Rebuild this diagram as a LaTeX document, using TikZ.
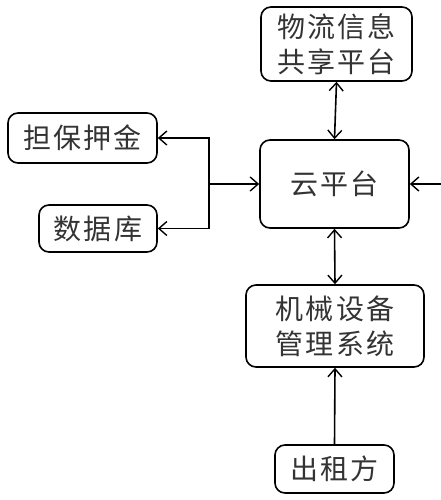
\documentclass[tikz,border=0pt]{standalone}
\usepackage{fontspec}
\setmainfont{Noto Sans CJK SC}[LetterSpace=8]
\usetikzlibrary{arrows.meta}
\begin{document}
\begin{tikzpicture}[x=1pt,y=-1pt,
  box/.style={draw, line width=1.6pt, rounded corners=10pt, align=center, inner sep=0pt,
    font=\fontsize{28}{35}\selectfont, text=black!80},
  tip/.tip={Straight Barb[length=8pt,width=14pt,line width=1.4pt]},
  link/.style={line width=1.6pt, -tip},
  dlink/.style={line width=1.6pt, tip-tip}]
\useasboundingbox (0,0) rectangle (441,500);
\node[box, minimum width=151pt, minimum height=74pt] (wl) at (336.5,44) {物流信息\\共享平台};
\node[box, minimum width=149pt, minimum height=88pt] (yun) at (334.5,184) {云平台};
\node[box, minimum width=149pt, minimum height=50pt] (db) at (82.5,138) {担保押金};
\node[box, minimum width=118pt, minimum height=47pt] (sj) at (98,228.5) {数据库};
\node[box, minimum width=178pt, minimum height=82pt] (jx) at (335,326) {机械设备\\管理系统};
\node[box, minimum width=119pt, minimum height=48pt] (cz) at (334.5,469) {出租方};
\coordinate (j) at (209,184);
\coordinate (r) at (442,184);
\draw[dlink] (wl.south) -- (yun.north);
\draw[dlink] (yun.south) -- (jx.north);
\draw[link] (cz.north) -- (jx.south);
\draw[link] (r) -- (yun.east);
\draw[link] (j) -- (yun.west);
\draw[link] (j) |- (db.east);
\draw[link] (j) |- (sj.east);
\end{tikzpicture}
\end{document}
